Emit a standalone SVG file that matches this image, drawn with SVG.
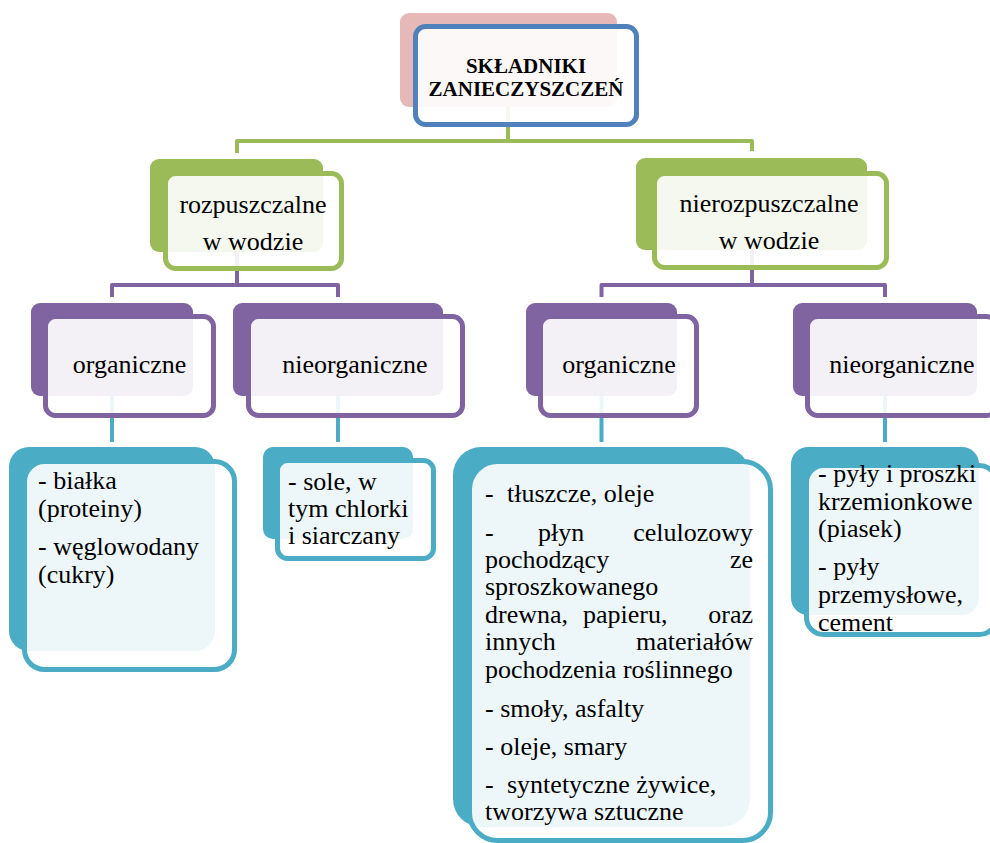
<svg xmlns="http://www.w3.org/2000/svg" width="990" height="843" viewBox="0 0 990 843" font-family="'Liberation Serif', 'DejaVu Serif', serif">
<style>
text{font-family:'Liberation Serif','Times New Roman','DejaVu Serif',serif;font-size:26px;fill:#000}
.t{font-size:21px;font-weight:bold}
.c{text-anchor:middle}
.e{text-anchor:end}
.con{fill:none;stroke-width:4;stroke-linejoin:round}
.fr{fill:#fff;fill-opacity:0.9;stroke-width:5}
</style>
<rect width="990" height="843" fill="#fff"/>
<g id="connectors">
<path class="con" stroke="#9BBB59" d="M508,60 V141 H237 V153 M508,141 H752 V151"/>
<path class="con" stroke="#8064A2" d="M237,230 V285 H112 V297 M237,285 H338 V297"/>
<path class="con" stroke="#8064A2" d="M752,230 V285 H601.5 V297 M752,285 H885 V297"/>
<path class="con" stroke="#4BACC6" d="M112,380 V442 M338,380 V442 M601.5,380 V442 M885,380 V442"/>
</g>
<g id="root">
<rect x="400" y="13" width="217" height="94" rx="9" fill="#E6B9B8"/>
<rect class="fr" x="415.5" y="26.5" width="221" height="98" rx="10" stroke="#4F81BD"/>
<text class="t c" x="526" y="73">SKŁADNIKI</text>
<text class="t c" x="526" y="96">ZANIECZYSZCZEŃ</text>
</g>
<g id="rozp">
<rect x="150" y="159" width="173" height="93" rx="9" fill="#9BBB59"/>
<rect class="fr" x="165.5" y="173.5" width="176" height="95" rx="10" stroke="#9BBB59"/>
<text class="c" x="253" y="213">rozpuszczalne</text>
<text class="c" x="253" y="250">w wodzie</text>
</g>
<g id="nierozp">
<rect x="636" y="158" width="231" height="92" rx="9" fill="#9BBB59"/>
<rect class="fr" x="654.5" y="173.5" width="232" height="94" rx="10" stroke="#9BBB59"/>
<text class="c" x="769" y="212">nierozpuszczalne</text>
<text class="c" x="769" y="249">w wodzie</text>
</g>
<g id="org1">
<rect x="31" y="303" width="162" height="93" rx="9" fill="#8064A2"/>
<rect class="fr" x="45.5" y="316.5" width="168" height="99" rx="10" stroke="#8064A2"/>
<text class="c" x="129.5" y="373">organiczne</text>
</g>
<g id="nieorg1">
<rect x="233" y="303" width="210" height="93" rx="9" fill="#8064A2"/>
<rect class="fr" x="248.5" y="316.5" width="214" height="99" rx="10" stroke="#8064A2"/>
<text class="c" x="355" y="373">nieorganiczne</text>
</g>
<g id="org2">
<rect x="526" y="303" width="151" height="93" rx="9" fill="#8064A2"/>
<rect class="fr" x="540.5" y="316.5" width="156" height="99" rx="10" stroke="#8064A2"/>
<text class="c" x="619" y="373">organiczne</text>
</g>
<g id="nieorg2">
<rect x="793" y="303" width="184" height="93" rx="9" fill="#8064A2"/>
<rect class="fr" x="807.5" y="316.5" width="189" height="99" rx="10" stroke="#8064A2"/>
<text class="c" x="902" y="373">nieorganiczne</text>
</g>
<g id="list1">
<rect x="9" y="447" width="206" height="204" rx="20" fill="#4BACC6"/>
<rect class="fr" x="24.5" y="461.5" width="210" height="208" rx="20" stroke="#4BACC6"/>
<text x="38" y="489">- białka</text>
<text x="38" y="517">(proteiny)</text>
<text x="38" y="555">- węglowodany</text>
<text x="38" y="583">(cukry)</text>
</g>
<g id="list2">
<rect x="263" y="447" width="150" height="92" rx="10" fill="#4BACC6"/>
<rect class="fr" x="277.5" y="460.5" width="156" height="98" rx="10" stroke="#4BACC6"/>
<text x="288" y="490">- sole, w</text>
<text x="288" y="517">tym chlorki</text>
<text x="288" y="544">i siarczany</text>
</g>
<g id="list3">
<rect x="453" y="447" width="297" height="380" rx="28" fill="#4BACC6"/>
<rect class="fr" x="469.5" y="461.5" width="301" height="379" rx="28" stroke="#4BACC6"/>
<text x="485" y="502">-</text><text x="507" y="502">tłuszcze, oleje</text>
<text x="485" y="541">-</text><text x="538" y="541">płyn</text><text class="e" x="753" y="541">celulozowy</text>
<text x="485" y="568">pochodzący</text><text class="e" x="753" y="568">ze</text>
<text x="485" y="595">sproszkowanego</text>
<text x="485" y="623">drewna,</text><text x="583" y="623">papieru,</text><text class="e" x="753" y="623">oraz</text>
<text x="485" y="650">innych</text><text class="e" x="753" y="650">materiałów</text>
<text x="485" y="678">pochodzenia roślinnego</text>
<text x="485" y="717">- smoły, asfalty</text>
<text x="485" y="755">- oleje, smary</text>
<text x="485" y="793">-</text><text x="507" y="793">syntetyczne żywice,</text>
<text x="485" y="820">tworzywa sztuczne</text>
</g>
<g id="list4">
<rect x="791" y="447" width="188" height="168" rx="17" fill="#4BACC6"/>
<rect class="fr" x="806.5" y="465.5" width="190" height="169" rx="17" stroke="#4BACC6"/>
<text x="818" y="482">- pyły i proszki</text>
<text x="818" y="510">krzemionkowe</text>
<text x="818" y="537">(piasek)</text>
<text x="818" y="575">- pyły</text>
<text x="818" y="603">przemysłowe,</text>
<text x="818" y="631">cement</text>
</g>
</svg>
